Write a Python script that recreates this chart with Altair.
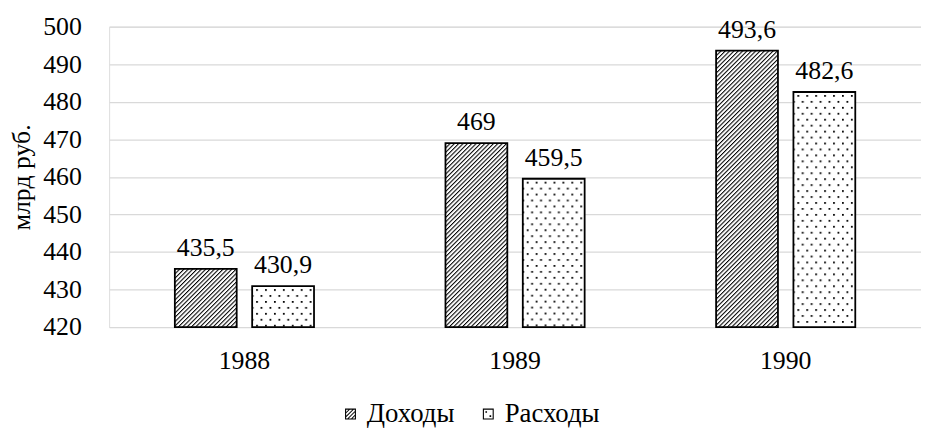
import base64
import altair as alt
import pandas as pd

YEARS = ["1988", "1989", "1990"]
SERIES = ["Доходы", "Расходы"]
INCOME = [435.5, 469, 493.6]
EXPENSE = [430.9, 459.5, 482.6]
Y_TICKS = [420, 430, 440, 450, 460, 470, 480, 490, 500]

rows = []
for i, y in enumerate(YEARS):
    rows.append({"year": y, "series": SERIES[0], "value": INCOME[i]})
    rows.append({"year": y, "series": SERIES[1], "value": EXPENSE[i]})
df = pd.DataFrame(rows)

FONT = "Liberation Serif"
FS = 26


def svg_uri(svg):
    return "data:image/svg+xml;base64," + base64.b64encode(svg.encode("utf-8")).decode("ascii")


HATCH_URI = svg_uri(
    "<svg xmlns='http://www.w3.org/2000/svg' width='100%' height='100%'>"
    "<defs><pattern id='h' patternUnits='userSpaceOnUse' width='3.1' height='3.1' "
    "patternTransform='rotate(45)'><rect x='0' y='0' width='1.05' height='3.1' fill='black'/>"
    "</pattern></defs><rect width='100%' height='100%' fill='white'/>"
    "<rect width='100%' height='100%' fill='url(#h)'/></svg>"
)
DOTS_URI = svg_uri(
    "<svg xmlns='http://www.w3.org/2000/svg' width='100%' height='100%'>"
    "<defs><pattern id='d' patternUnits='userSpaceOnUse' width='9' height='12' x='4' y='3'>"
    "<rect x='0' y='0' width='1.8' height='1.8' fill='black'/>"
    "<rect x='4.5' y='6' width='1.8' height='1.8' fill='black'/>"
    "</pattern></defs><rect width='100%' height='100%' fill='white'/>"
    "<rect width='100%' height='100%' fill='url(#d)'/></svg>"
)


# ---- legend symbol paths (unit square -1..1) ----
def clip(poly, m):
    def clip_edge(pts, inside, inter):
        out = []
        for i in range(len(pts)):
            cur, prev = pts[i], pts[i - 1]
            if inside(cur):
                if not inside(prev):
                    out.append(inter(prev, cur))
                out.append(cur)
            elif inside(prev):
                out.append(inter(prev, cur))
        return out

    def ix(xv):
        return lambda p, q: (xv, p[1] + (q[1] - p[1]) * (xv - p[0]) / (q[0] - p[0]))

    def iy(yv):
        return lambda p, q: (p[0] + (q[0] - p[0]) * (yv - p[1]) / (q[1] - p[1]), yv)

    pts = poly
    pts = clip_edge(pts, lambda p: p[0] >= -m, ix(-m))
    pts = clip_edge(pts, lambda p: p[0] <= m, ix(m))
    pts = clip_edge(pts, lambda p: p[1] >= -m, iy(-m))
    pts = clip_edge(pts, lambda p: p[1] <= m, iy(m))
    return pts


def poly_path(pts):
    area = sum(pts[i - 1][0] * pts[i][1] - pts[i][0] * pts[i - 1][1] for i in range(len(pts)))
    if area < 0:
        pts = pts[::-1]
    return "M" + "L".join(f"{x:.3f},{y:.3f}" for x, y in pts) + "Z"


INNER = 0.8
RING = "M-1,-1H1V1H-1Z" + f"M{-INNER},{-INNER}V{INNER}H{INNER}V{-INNER}Z"
hatch_path = RING
for c in [-1.05, -0.35, 0.35, 1.05]:
    a, b = c - 0.12, c + 0.12
    band = [(-4, a + 4), (a + 4, -4), (b + 4, -4), (-4, b + 4)]
    cl = clip(band, INNER)
    if len(cl) >= 3:
        hatch_path += poly_path(cl)
dots_path = RING
for cx, cy in [(-0.38, -0.38), (0.38, 0.38)]:
    s = 0.15
    dots_path += f"M{cx - s:.2f},{cy - s:.2f}H{cx + s:.2f}V{cy + s:.2f}H{cx - s:.2f}Z"

base = alt.Chart(df).encode(
    x=alt.X(
        "year:N",
        sort=YEARS,
        scale=alt.Scale(paddingInner=0, paddingOuter=0),
        axis=alt.Axis(
            title=None, labelAngle=0, domain=False, ticks=False,
            labelFont=FONT, labelFontSize=FS, labelColor="black", labelPadding=21,
        ),
    ),
    xOffset=alt.XOffset(
        "series:N",
        scale=alt.Scale(domain=SERIES, paddingInner=0.2, paddingOuter=0.85),
    ),
    y=alt.Y(
        "value:Q",
        scale=alt.Scale(domain=[420, 500], nice=False, zero=False),
        axis=alt.Axis(
            title="млрд руб.", values=Y_TICKS, domain=False, ticks=False,
            labelFont=FONT, labelFontSize=FS, labelColor="black", labelPadding=28,
            titleFont=FONT, titleFontSize=FS, titleFontWeight="normal", titleColor="black",
            titlePadding=8, gridColor="#d9d9d9", gridWidth=1.3,
        ),
    ),
)

img_inc = base.transform_filter(alt.datum.series == SERIES[0]).mark_image(aspect=False).encode(
    y2=alt.datum(420), url=alt.value(HATCH_URI)
)
img_exp = base.transform_filter(alt.datum.series == SERIES[1]).mark_image(aspect=False).encode(
    y2=alt.datum(420), url=alt.value(DOTS_URI)
)
outline = base.mark_bar(fill="white", fillOpacity=0, stroke="black", strokeWidth=1.8).encode(
    y2=alt.datum(420)
)
labels = base.transform_calculate(
    label="replace(toString(datum.value), '.', ',')"
).mark_text(baseline="alphabetic", dy=-13, font=FONT, fontSize=FS, color="black").encode(
    text="label:N"
)
legend_pts = base.mark_point(filled=True, size=0, color="black", strokeWidth=0).encode(
    shape=alt.Shape(
        "series:N",
        scale=alt.Scale(domain=SERIES, range=[hatch_path, dots_path]),
        legend=alt.Legend(
            title=None, orient="none", direction="horizontal", legendX=230, legendY=377,
            labelFont=FONT, labelFontSize=27, labelColor="black", labelOffset=3,
            symbolSize=121, symbolFillColor="black", symbolStrokeWidth=0, symbolOpacity=1,
            columnPadding=20,
        ),
    )
)

chart = alt.layer(img_inc, img_exp, outline, labels, legend_pts).properties(
    width=819,
    height=303,
    autosize=alt.AutoSizeParams(type="none"),
    padding={"left": 102, "top": 17, "right": 0, "bottom": 102},
).configure_view(stroke=None).configure(background="white")

chart.save("out.html", embed_options={"renderer": "svg", "actions": False})
